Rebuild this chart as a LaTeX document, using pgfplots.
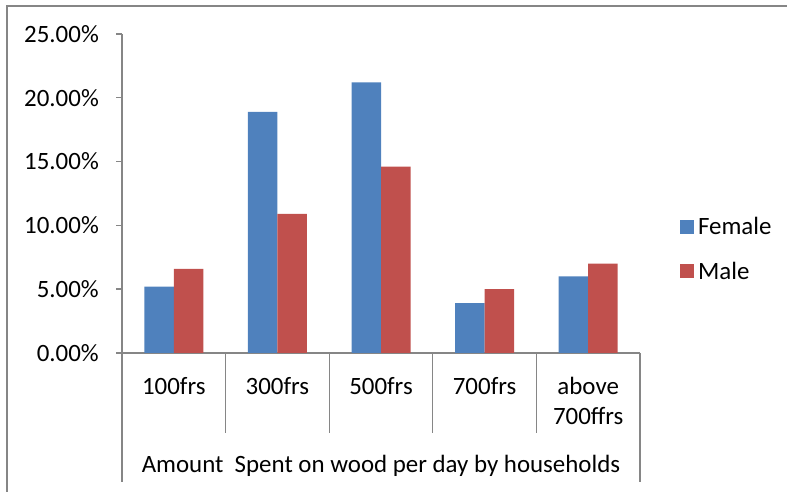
\documentclass[border=0pt]{standalone}
\usepackage{fontspec}
\setmainfont{Carlito}
\usepackage{pgfplots}
\pgfplotsset{compat=1.18}

\definecolor{femaleblue}{HTML}{4F81BD}
\definecolor{malered}{HTML}{C0504D}
\definecolor{axisgray}{HTML}{868686}

\begin{document}
\begin{tikzpicture}[x=1bp,y=1bp]
\useasboundingbox (0,0) rectangle (787,492);
% chart frame
\draw[axisgray, line width=1.2bp] (7,0) -- (7,486) -- (787,486);
\begin{axis}[
  at={(122bp,139bp)}, anchor=south west,
  scale only axis, width=518bp, height=319bp,
  xmin=-0.5, xmax=4.5, ymin=0, ymax=25,
  ybar=0pt, bar width=29.5bp,
  axis x line*=bottom, axis y line*=left,
  axis line style={axisgray, line width=1.4bp, -},
  clip=false,
  xtick={0,1,2,3,4},
  xticklabels={100frs,300frs,500frs,700frs,{above\\700ffrs}},
  x tick label style={align=center, anchor=north, inner sep=0pt, yshift=-18bp, font=\fontsize{25}{30}\selectfont},
  xtick style={draw=none},
  ytick={0,5,10,15,20,25},
  yticklabel={\pgfmathprintnumber[fixed,fixed zerofill,precision=2]{\tick}\%},
  /pgf/number format/assume math mode=true,
  y tick label style={anchor=east, inner sep=0pt, xshift=-17bp, font=\fontsize{25}{28}\selectfont},
  ytick style={axisgray, line width=1.4bp},
  tick align=outside, major tick length=6bp,
  xlabel={Amount\ \ Spent on wood per day by households},
  xlabel style={at={(axis description cs:0.5,0)}, anchor=center, yshift=-113bp, font=\fontsize{25}{28}\selectfont},
  legend style={at={(1.077,0.326)}, anchor=west, draw=none, fill=none,
    font=\fontsize{25}{28}\selectfont, row sep=22bp, inner sep=0pt},
  legend cell align=left,
  legend image code/.code={\fill[#1] (0bp,-7bp) rectangle (14bp,7bp);},
]
\addplot[fill=femaleblue, draw=none] coordinates {(0,5.2) (1,18.9) (2,21.2) (3,3.9) (4,6.0)};
\addplot[fill=malered, draw=none] coordinates {(0,6.6) (1,10.9) (2,14.6) (3,5.0) (4,7.0)};
\legend{\hspace{2bp}Female,\hspace{2bp}Male}
% category separators of the grouped axis
\draw[axisgray, line width=1.2bp] (axis cs:0.5,0) -- ([yshift=-80bp]axis cs:0.5,0);
\draw[axisgray, line width=1.2bp] (axis cs:1.5,0) -- ([yshift=-80bp]axis cs:1.5,0);
\draw[axisgray, line width=1.2bp] (axis cs:2.5,0) -- ([yshift=-80bp]axis cs:2.5,0);
\draw[axisgray, line width=1.2bp] (axis cs:3.5,0) -- ([yshift=-80bp]axis cs:3.5,0);
\draw[axisgray, line width=1.2bp] (axis cs:-0.5,0) -- ([yshift=-129bp]axis cs:-0.5,0);
\draw[axisgray, line width=1.2bp] (axis cs:4.5,0) -- ([yshift=-129bp]axis cs:4.5,0);
\end{axis}
\end{tikzpicture}
\end{document}
